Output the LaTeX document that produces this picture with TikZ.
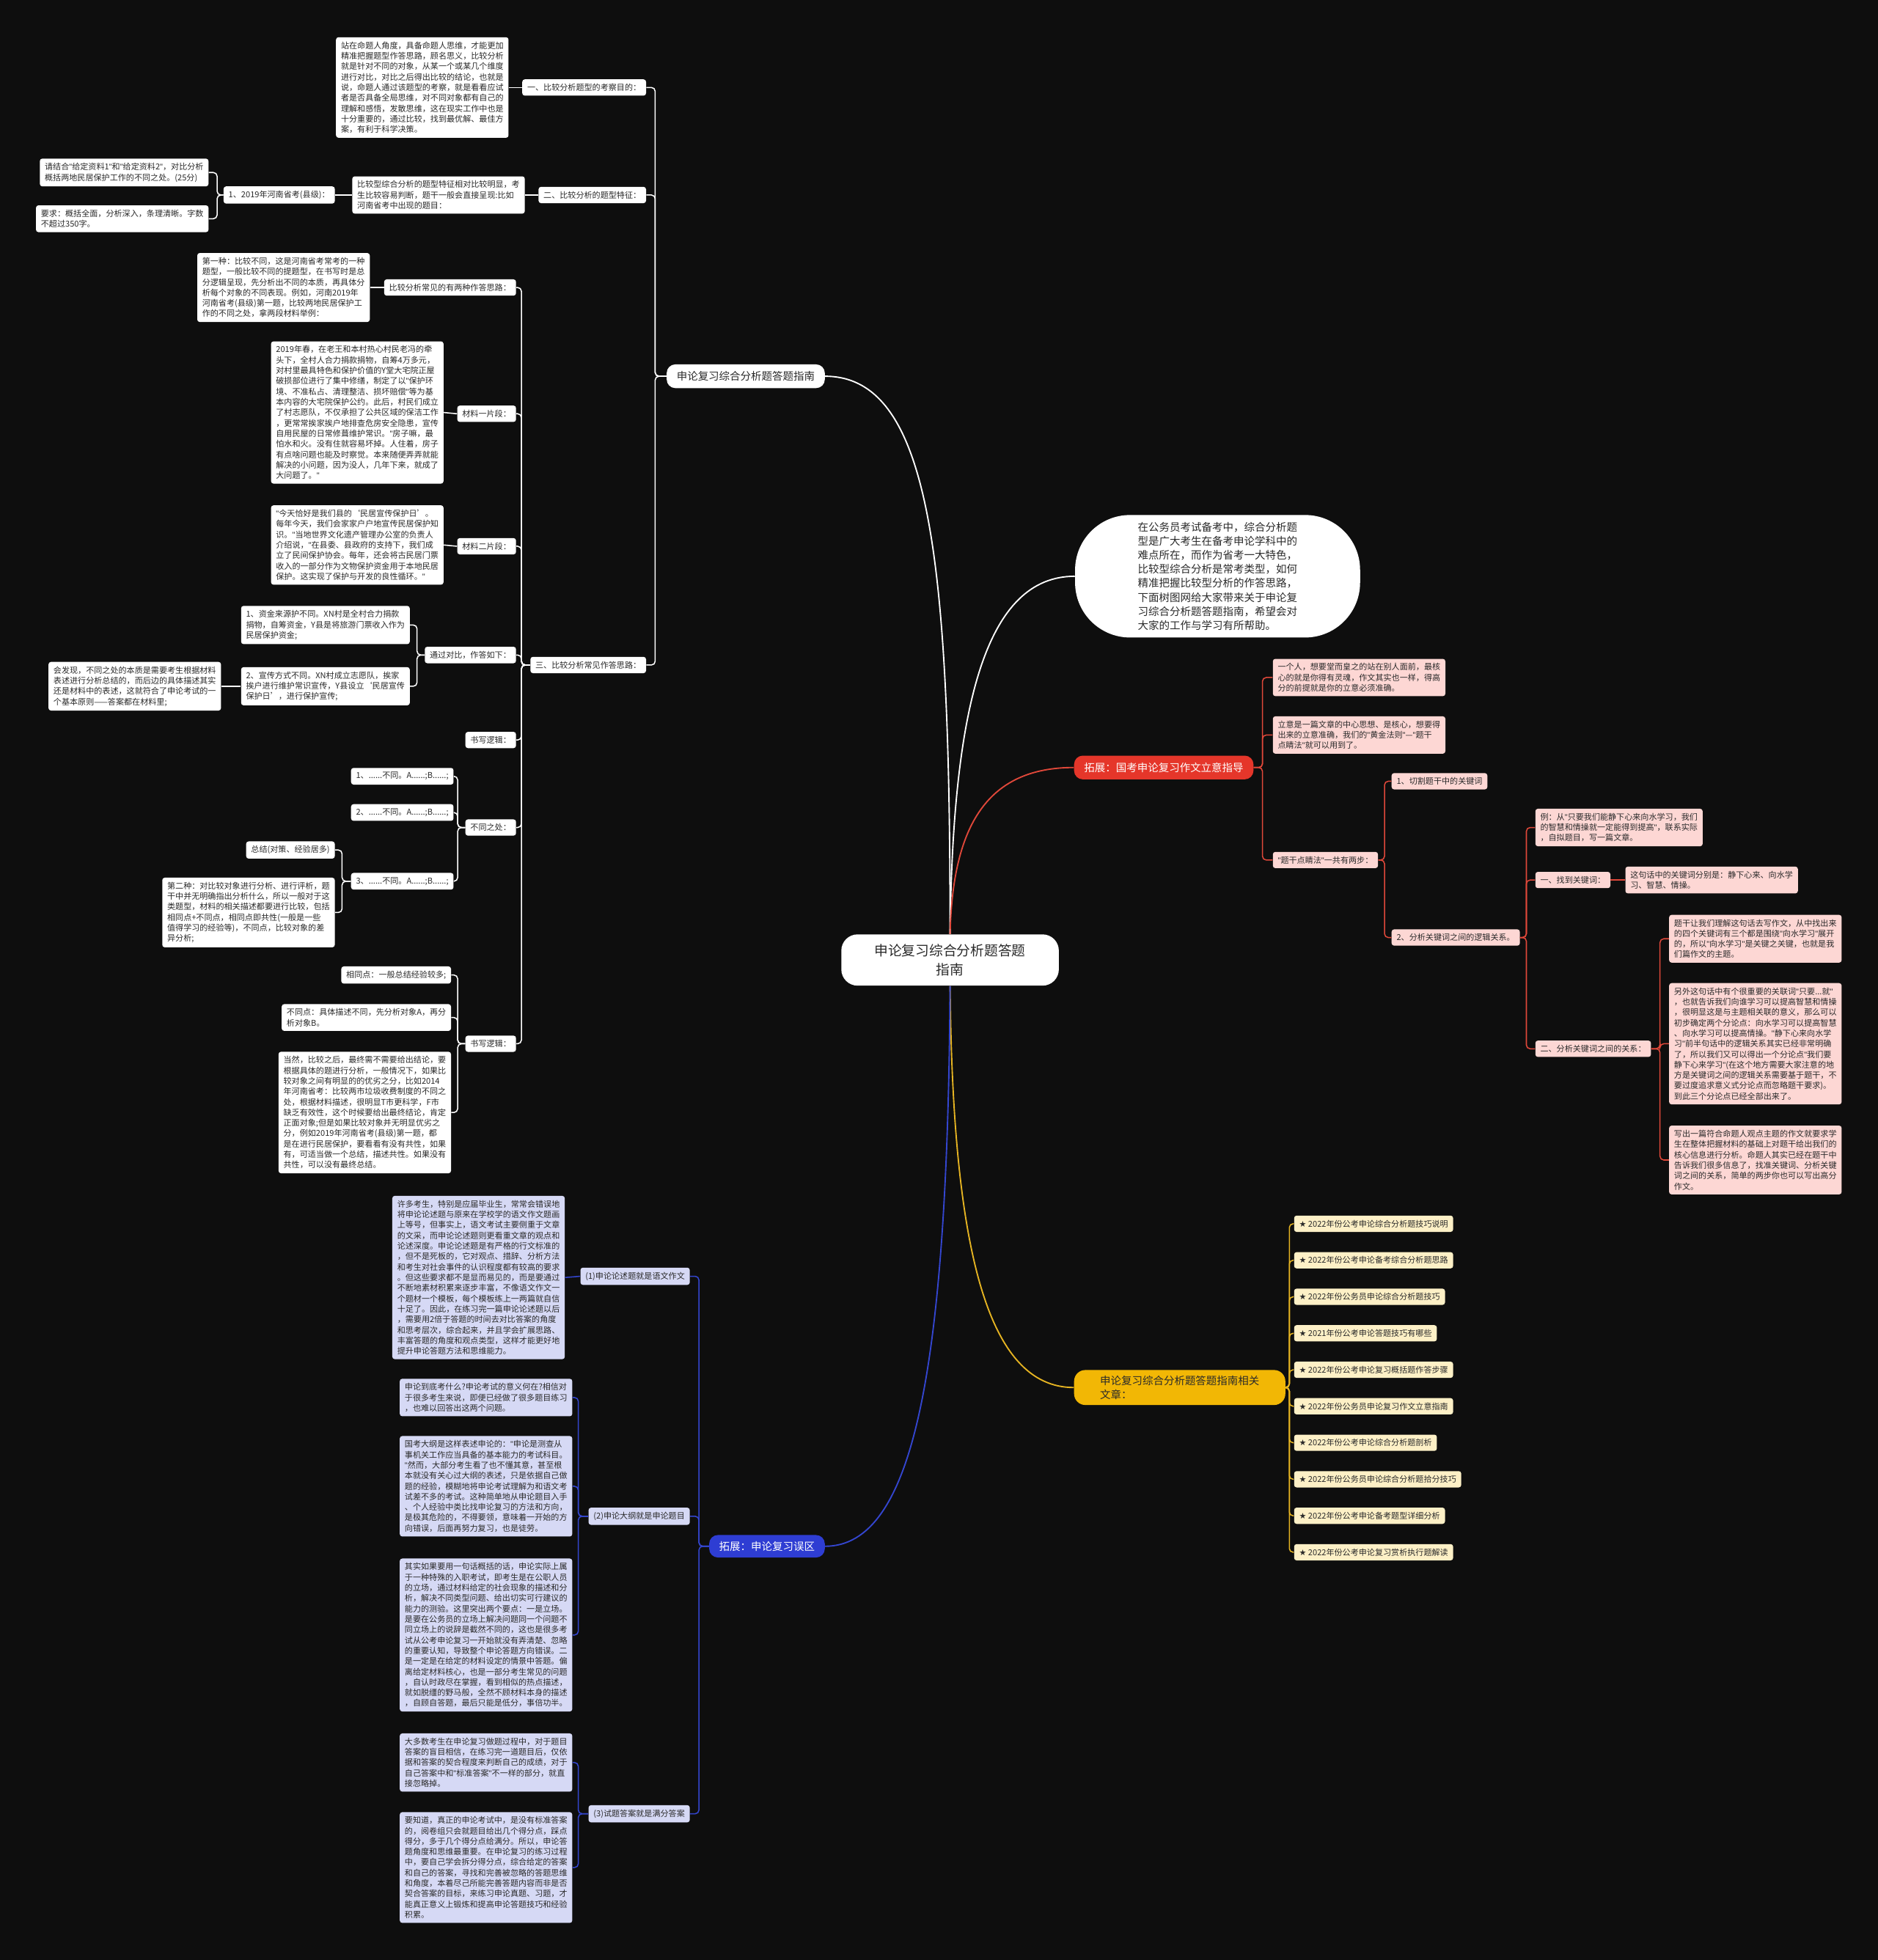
\documentclass[tikz,border=0pt]{standalone}
\usepackage{fontspec}
\setmainfont{Noto Sans CJK SC}
\newfontfamily\symfont{DejaVu Sans}
\newfontfamily\latf{Liberation Sans}
\newcommand\dq{{\latf"}}
\usetikzlibrary{calc}
\definecolor{bgc}{HTML}{0E0E0E}
\definecolor{txt}{HTML}{2A2A2A}
\definecolor{redm}{HTML}{E5362A}
\definecolor{redl}{HTML}{E0483A}
\definecolor{pinkc}{HTML}{FDD7D4}
\definecolor{yelm}{HTML}{F2B705}
\definecolor{yell}{HTML}{E6B422}
\definecolor{yelc}{HTML}{FDF0C6}
\definecolor{blum}{HTML}{2E3DD3}
\definecolor{blul}{HTML}{3446D0}
\definecolor{lavc}{HTML}{D6D9F5}
\tikzset{
  leaf/.style={rounded corners=2pt, align=left, inner xsep=4pt, inner ysep=3.5pt,
               text=txt, font=\fontsize{6.5}{8.4}\selectfont},
  wleaf/.style={leaf, fill=white},
  rleaf/.style={leaf, fill=pinkc},
  yleaf/.style={leaf, fill=yelc},
  bleaf/.style={leaf, fill=lavc},
  lft/.style={anchor=east},
  rgt/.style={anchor=west},
  main/.style={rounded corners=7pt, align=left, inner xsep=8pt, inner ysep=4pt,
               minimum height=19pt, font=\fontsize{8.5}{11}\selectfont},
  hub/.style={fill=white, text=txt, rounded corners=13pt, align=center,
              minimum width=174pt, minimum height=41pt, font=\fontsize{11}{15}\selectfont},
  intro/.style={fill=white, text=txt, rounded corners=44pt, align=left,
                minimum width=228pt, minimum height=98pt, font=\fontsize{8.5}{11.2}\selectfont},
  wl/.style={draw=white, line width=0.9pt, rounded corners=3pt},
  rl/.style={draw=redl, line width=0.9pt, rounded corners=3pt},
  yl/.style={draw=yell, line width=0.9pt, rounded corners=3pt},
  bl/.style={draw=blul, line width=0.9pt, rounded corners=3pt}
}
\begin{document}
\begin{tikzpicture}[x=1pt, y=-1pt]
  \fill[bgc] (0,0) rectangle (1502,1568);
  \useasboundingbox (0,0) rectangle (1502,1568);

  % centre and main branches
  \node[hub] (hub) at (760,768) {申论复习综合分析题答题\\指南};
  \node[main, fill=white, text=txt, lft] (guide) at (660,301) {申论复习综合分析题答题指南};
  \node[intro] (intro) at (974,461) {在公务员考试备考中，综合分析题\\型是广大考生在备考申论学科中的\\难点所在，而作为省考一大特色，\\比较型综合分析是常考类型，如何\\精准把握比较型分析的作答思路，\\下面树图网给大家带来关于申论复\\习综合分析题答题指南，希望会对\\大家的工作与学习有所帮助。};
  \node[main, fill=redm, text=white, rgt] (red) at (859,614) {拓展：国考申论复习作文立意指导};
  \node[main, fill=yelm, text=txt, rgt, minimum width=169pt, minimum height=28pt,
        inner ysep=3pt, rounded corners=9pt] (rel) at (859,1110) {申论复习综合分析题答题指南相关\\文章：};
  \node[main, fill=blum, text=white, lft, minimum height=18pt] (blue) at (660,1237) {拓展：申论复习误区};

  \draw[wl, line width=1.1pt] (hub.north) .. controls (760,450) and (745,301) .. (guide.east);
  \draw[wl, line width=1.1pt] (hub.north) .. controls (762,560) and (790,461) .. (intro.west);
  \draw[rl, line width=1.1pt] (hub.north) .. controls (762,660) and (790,614) .. (red.west);
  \draw[yl, line width=1.1pt] (hub.south) .. controls (762,1000) and (790,1110) .. (rel.west);
  \draw[bl, line width=1.1pt] (hub.south) .. controls (758,1100) and (730,1237) .. (blue.east);

  % white branch, level 2
  \node[wleaf, lft] (aim) at (517,70) {一、比较分析题型的考察目的：};
  \node[wleaf, lft] (feat) at (517,156) {二、比较分析的题型特征：};
  \node[wleaf, lft] (way) at (517,532) {三、比较分析常见作答思路：};
  \foreach \c in {aim,feat,way}
    \draw[wl] (\c.east) -| ([xshift=-9pt]guide.west) -- (guide.west);

  \node[wleaf, lft] (aimT) at (407,70) {站在命题人角度，具备命题人思维，才能更加\\精准把握题型作答思路，顾名思义，比较分析\\就是针对不同的对象，从某一个或某几个维度\\进行对比，对比之后得出比较的结论，也就是\\说，命题人通过该题型的考察，就是看看应试\\者是否具备全局思维，对不同对象都有自己的\\理解和感悟，发散思维，这在现实工作中也是\\十分重要的，通过比较，找到最优解、最佳方\\案，有利于科学决策。};
  \draw[wl] (aimT.east) -- (aim.west);

  \node[wleaf, lft] (featT) at (420,156) {比较型综合分析的题型特征相对比较明显，考\\生比较容易判断，题干一般会直接呈现:比如\\河南省考中出现的题目：};
  \draw[wl] (featT.east) -- (feat.west);
  \node[wleaf, lft] (hn) at (268,156) {1、2019年河南省考(县级)：};
  \draw[wl] (hn.east) -- (featT.west);
  \node[wleaf, lft] (hnQ) at (167,138) {请结合\dq{}给定资料1\dq{}和\dq{}给定资料2\dq{}，对比分析\\概括两地民居保护工作的不同之处。(25分)};
  \node[wleaf, lft] (hnR) at (167,175) {要求：概括全面，分析深入，条理清晰。字数\\不超过350字。};
  \foreach \c in {hnQ,hnR}
    \draw[wl] (\c.east) -| ([xshift=-5pt]hn.west) -- (hn.west);

  % white branch, answer ideas
  \node[wleaf, lft] (two) at (413,230) {比较分析常见的有两种作答思路：};
  \node[wleaf, lft] (mat1) at (413,331) {材料一片段：};
  \node[wleaf, lft] (mat2) at (413,437) {材料二片段：};
  \node[wleaf, lft] (cmp) at (413,524) {通过对比，作答如下：};
  \node[wleaf, lft] (logA) at (413,592) {书写逻辑：};
  \node[wleaf, lft] (diff) at (413,662) {不同之处：};
  \node[wleaf, lft] (logB) at (413,835) {书写逻辑：};
  \foreach \c in {two,mat1,mat2,cmp,logA,diff,logB}
    \draw[wl] (\c.east) -| ([xshift=-7pt]way.west) -- (way.west);

  \node[wleaf, lft] (first) at (296,230) {第一种：比较不同，这是河南省考常考的一种\\题型，一般比较不同的提题型，在书写时是总\\分逻辑呈现，先分析出不同的本质，再具体分\\析每个对象的不同表现。例如，河南2019年\\河南省考(县级)第一题，比较两地民居保护工\\作的不同之处，拿两段材料举例：};
  \draw[wl] (first.east) -- (two.west);
  \node[wleaf, lft] (mat1T) at (355,330) {2019年春，在老王和本村热心村民老冯的牵\\头下，全村人合力捐款捐物，自筹4万多元，\\对村里最具特色和保护价值的Y堂大宅院正屋\\破损部位进行了集中修缮，制定了以\dq{}保护环\\境、不准私占、清理整洁、损坏赔偿\dq{}等为基\\本内容的大宅院保护公约。此后，村民们成立\\了村志愿队，不仅承担了公共区域的保洁工作\\，更常常挨家挨户地排查危房安全隐患，宣传\\自用民屋的日常修葺维护常识。\dq{}房子嘛，最\\怕水和火。没有住就容易坏掉。人住着，房子\\有点啥问题也能及时察觉。本来随便弄弄就能\\解决的小问题，因为没人，几年下来，就成了\\大问题了。\dq{}};
  \draw[wl] (mat1T.east) -- (mat1.west);
  \node[wleaf, lft] (mat2T) at (355,436) {\dq{}今天恰好是我们县的‘民居宣传保护日’。\\每年今天，我们会家家户户地宣传民居保护知\\识。\dq{}当地世界文化遗产管理办公室的负责人\\介绍说，\dq{}在县委、县政府的支持下，我们成\\立了民间保护协会。每年，还会将古民居门票\\收入的一部分作为文物保护资金用于本地民居\\保护。这实现了保护与开发的良性循环。\dq{}};
  \draw[wl] (mat2T.east) -- (mat2.west);

  \node[wleaf, lft] (fund) at (328,500) {1、资金来源护不同。XN村是全村合力捐款\\捐物，自筹资金，Y县是将旅游门票收入作为\\民居保护资金;};
  \node[wleaf, lft] (promo) at (328,549) {2、宣传方式不同。XN村成立志愿队，挨家\\挨户进行维护常识宣传，Y县设立‘民居宣传\\保护日’，进行保护宣传;};
  \foreach \c in {fund,promo}
    \draw[wl] (\c.east) -| ([xshift=-6pt]cmp.west) -- (cmp.west);
  \node[wleaf, lft] (find) at (177,549) {会发现，不同之处的本质是需要考生根据材料\\表述进行分析总结的，而后边的具体描述其实\\还是材料中的表述，这就符合了申论考试的一\\个基本原则——答案都在材料里;};
  \draw[wl] (find.east) -- (promo.west);

  \node[wleaf, lft] (d1) at (363,621) {1、......不同。A......;B......;};
  \node[wleaf, lft] (d2) at (363,650) {2、......不同。A......;B......;};
  \node[wleaf, lft] (d3) at (363,705) {3、......不同。A......;B......;};
  \foreach \c in {d1,d2,d3}
    \draw[wl] (\c.east) -| ([xshift=-6pt]diff.west) -- (diff.west);
  \node[wleaf, lft] (sum) at (268,680) {总结(对策、经验居多)};
  \node[wleaf, lft] (second) at (268,730) {第二种：对比较对象进行分析、进行评析，题\\干中并无明确指出分析什么，所以一般对于这\\类题型，材料的相关描述都要进行比较，包括\\相同点+不同点，相同点即共性(一般是一些\\值得学习的经验等)，不同点，比较对象的差\\异分析;};
  \foreach \c in {sum,second}
    \draw[wl] (\c.east) -| ([xshift=-7pt]d3.west) -- (d3.west);

  \node[wleaf, lft] (same) at (361,780) {相同点：一般总结经验较多;};
  \node[wleaf, lft] (unlike) at (361,814) {不同点：具体描述不同，先分析对象A，再分\\析对象B。};
  \node[wleaf, lft] (concl) at (361,890) {当然，比较之后，最终需不需要给出结论，要\\根据具体的题进行分析，一般情况下，如果比\\较对象之间有明显的的优劣之分，比如2014\\年河南省考：比较两市垃圾收费制度的不同之\\处，根据材料描述，很明显T市更科学，F市\\缺乏有效性，这个时候要给出最终结论，肯定\\正面对象;但是如果比较对象并无明显优劣之\\分，例如2019年河南省考(县级)第一题，都\\是在进行民居保护，要看看有没有共性，如果\\有，可适当做一个总结，描述共性。如果没有\\共性，可以没有最终总结。};
  \foreach \c in {same,unlike,concl}
    \draw[wl] (\c.east) -| ([xshift=-6pt]logB.west) -- (logB.west);

  % red branch
  \node[rleaf, rgt] (r1) at (1018,542) {一个人，想要堂而皇之的站在别人面前，最核\\心的就是你得有灵魂，作文其实也一样，得高\\分的前提就是你的立意必须准确。};
  \node[rleaf, rgt] (r2) at (1018,588) {立意是一篇文章的中心思想、是核心，想要得\\出来的立意准确，我们的\dq{}黄金法则\dq{}—\dq{}题干\\点睛法\dq{}就可以用到了。};
  \node[rleaf, rgt] (r3) at (1018,688) {\dq{}题干点睛法\dq{}一共有两步：};
  \foreach \c in {r1,r2,r3}
    \draw[rl] (red.east) -- ([xshift=7pt]red.east) |- (\c.west);
  \node[rleaf, rgt] (cut) at (1113,625) {1、切割题干中的关键词};
  \node[rleaf, rgt] (rela) at (1113,750) {2、分析关键词之间的逻辑关系。};
  \foreach \c in {cut,rela}
    \draw[rl] (r3.east) -- ([xshift=5pt]r3.east) |- (\c.west);
  \node[rleaf, rgt] (eg) at (1228,662) {例：从\dq{}只要我们能静下心来向水学习，我们\\的智慧和情操就一定能得到提高\dq{}，联系实际\\，自拟题目，写一篇文章。};
  \node[rleaf, rgt] (kw) at (1228,704) {一、找到关键词：};
  \node[rleaf, rgt] (kr) at (1228,839) {二、分析关键词之间的关系：};
  \foreach \c in {eg,kw,kr}
    \draw[rl] (rela.east) -- ([xshift=5pt]rela.east) |- (\c.west);
  \node[rleaf, rgt] (kwT) at (1300,704) {这句话中的关键词分别是：静下心来、向水学\\习、智慧、情操。};
  \draw[rl] (kw.east) -- (kwT.west);
  \node[rleaf, rgt] (k1) at (1335,751) {题干让我们理解这句话去写作文，从中找出来\\的四个关键词有三个都是围绕\dq{}向水学习\dq{}展开\\的，所以\dq{}向水学习\dq{}是关键之关键，也就是我\\们篇作文的主题。};
  \node[rleaf, rgt] (k2) at (1335,835) {另外这句话中有个很重要的关联词\dq{}只要...就\dq{}\\，也就告诉我们向谁学习可以提高智慧和情操\\，很明显这是与主题相关联的意义，那么可以\\初步确定两个分论点：向水学习可以提高智慧\\、向水学习可以提高情操。\dq{}静下心来向水学\\习\dq{}前半句话中的逻辑关系其实已经非常明确\\了，所以我们又可以得出一个分论点\dq{}我们要\\静下心来学习\dq{}(在这个地方需要大家注意的地\\方是关键词之间的逻辑关系需要基于题干，不\\要过度追求意义式分论点而忽略题干要求)。\\到此三个分论点已经全部出来了。};
  \node[rleaf, rgt] (k3) at (1335,928) {写出一篇符合命题人观点主题的作文就要求学\\生在整体把握材料的基础上对题干给出我们的\\核心信息进行分析。命题人其实已经在题干中\\告诉我们很多信息了，找准关键词、分析关键\\词之间的关系，简单的两步你也可以写出高分\\作文。};
  \foreach \c in {k1,k2,k3}
    \draw[rl] (kr.east) -- ([xshift=7pt]kr.east) |- (\c.west);

  % yellow branch
  \foreach \t [count=\i] in {2022年份公考申论综合分析题技巧说明,
      2022年份公考申论备考综合分析题思路,
      2022年份公务员申论综合分析题技巧,
      2021年份公考申论答题技巧有哪些,
      2022年份公考申论复习概括题作答步骤,
      2022年份公务员申论复习作文立意指南,
      2022年份公考申论综合分析题剖析,
      2022年份公务员申论综合分析题拾分技巧,
      2022年份公考申论备考题型详细分析,
      2022年份公考申论复习赏析执行题解读} {
    \node[yleaf, rgt] (y\i) at (1035,{979+29.2*(\i-1)}) {{\symfont ★} \t};
    \draw[yl] (rel.east) -- ([xshift=3pt]rel.east) |- (y\i.west);
  }

  % blue branch
  \node[bleaf, lft] (b1) at (552,1021) {(1)申论论述题就是语文作文};
  \node[bleaf, lft] (b2) at (552,1213) {(2)申论大纲就是申论题目};
  \node[bleaf, lft] (b3) at (552,1451) {(3)试题答案就是满分答案};
  \foreach \c in {b1,b2,b3}
    \draw[bl] (\c.east) -| ([xshift=-8pt]blue.west) -- (blue.west);

  \node[bleaf, lft] (b1T) at (452,1022) {许多考生，特别是应届毕业生，常常会错误地\\将申论论述题与原来在学校学的语文作文题画\\上等号，但事实上，语文考试主要侧重于文章\\的文采，而申论论述题则更看重文章的观点和\\论述深度。申论论述题是有严格的行文标准的\\，但不是死板的，它对观点、措辞、分析方法\\和考生对社会事件的认识程度都有较高的要求\\。但这些要求都不是显而易见的，而是要通过\\不断地素材积累来逐步丰富，不像语文作文一\\个题材一个模板，每个模板练上一两篇就自信\\十足了。因此，在练习完一篇申论论述题以后\\，需要用2倍于答题的时间去对比答案的角度\\和思考层次，综合起来，并且学会扩展思路、\\丰富答题的角度和观点类型，这样才能更好地\\提升申论答题方法和思维能力。};
  \draw[bl] (b1T.east) -- (b1.west);

  \node[bleaf, lft] (b2a) at (458,1118) {申论到底考什么?申论考试的意义何在?相信对\\于很多考生来说，即便已经做了很多题目练习\\，也难以回答出这两个问题。};
  \node[bleaf, lft] (b2b) at (458,1189) {国考大纲是这样表述申论的：\dq{}申论是测查从\\事机关工作应当具备的基本能力的考试科目。\\\dq{}然而，大部分考生看了也不懂其意，甚至根\\本就没有关心过大纲的表述，只是依据自己做\\题的经验，模糊地将申论考试理解为和语文考\\试差不多的考试。这种简单地从申论题目入手\\、个人经验中类比找申论复习的方法和方向，\\是极其危险的，不得要领，意味着一开始的方\\向错误，后面再努力复习，也是徒劳。};
  \node[bleaf, lft] (b2c) at (458,1308) {其实如果要用一句话概括的话，申论实际上属\\于一种特殊的入职考试，即考生是在公职人员\\的立场，通过材料给定的社会现象的描述和分\\析，解决不同类型问题、给出切实可行建议的\\能力的测验。这里突出两个要点：一是立场。\\是要在公务员的立场上解决问题同一个问题不\\同立场上的说辞是截然不同的，这也是很多考\\试从公考申论复习一开始就没有弄清楚、忽略\\的重要认知，导致整个申论答题方向错误。二\\是一定是在给定的材料设定的情景中答题。偏\\离给定材料核心，也是一部分考生常见的问题\\，自认时政尽在掌握，看到相似的热点描述，\\就如脱缰的野马般，全然不顾材料本身的描述\\，自顾自答题，最后只能是低分，事倍功半。};
  \foreach \c in {b2a,b2b,b2c}
    \draw[bl] (\c.east) -| ([xshift=-8pt]b2.west) -- (b2.west);

  \node[bleaf, lft] (b3a) at (458,1410) {大多数考生在申论复习做题过程中，对于题目\\答案的盲目相信，在练习完一道题目后，仅依\\据和答案的契合程度来判断自己的成绩，对于\\自己答案中和\dq{}标准答案\dq{}不一样的部分，就直\\接忽略掉。};
  \node[bleaf, lft] (b3b) at (458,1494) {要知道，真正的申论考试中，是没有标准答案\\的，阅卷组只会就题目给出几个得分点，踩点\\得分，多于几个得分点给满分。所以，申论答\\题角度和思维最重要。在申论复习的练习过程\\中，要自己学会拆分得分点，综合给定的答案\\和自己的答案，寻找和完善被忽略的答题思维\\和角度，本着尽己所能完善答题内容而非是否\\契合答案的目标，来练习申论真题、习题，才\\能真正意义上锻炼和提高申论答题技巧和经验\\积累。};
  \foreach \c in {b3a,b3b}
    \draw[bl] (\c.east) -| ([xshift=-8pt]b3.west) -- (b3.west);
\end{tikzpicture}
\end{document}
